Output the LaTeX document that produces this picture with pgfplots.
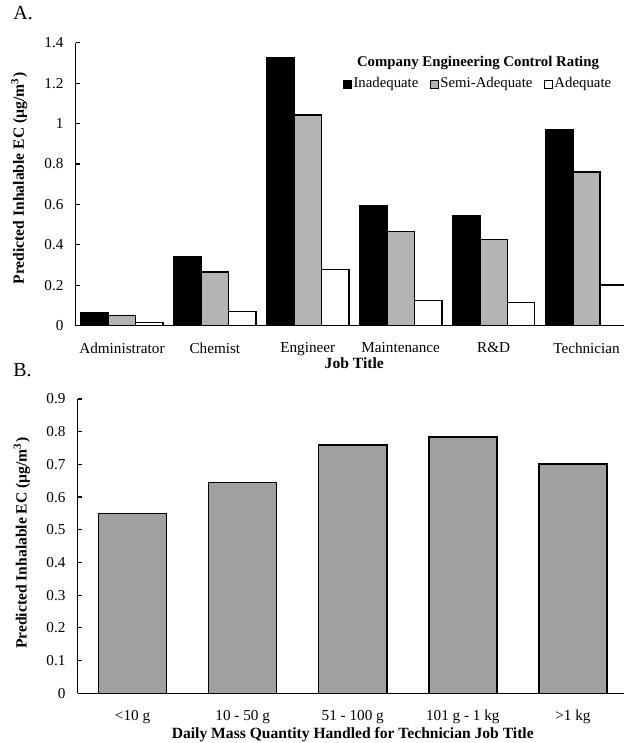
\documentclass[border=0pt]{standalone}
\usepackage{fontspec}
\setmainfont{Liberation Serif}
\usepackage{pgfplots}
\pgfplotsset{compat=1.18}
\definecolor{grayA}{RGB}{180,180,180}
\definecolor{grayB}{RGB}{160,160,160}
\pgfplotsset{
  common/.style={
    scale only axis,
    axis lines=left,
    axis line style={-, line width=0.75pt},
    /pgf/number format/assume math mode=true,
    tick label style={font=\fontsize{7.6}{9}\selectfont},
    label style={font=\bfseries\fontsize{7.8}{9}\selectfont},
    ytick align=inside,
    major tick length=2pt,
    ytick style={line width=0.6pt,black},
    xtick style={draw=none},
    xtick=data,
    ymin=0,
    xticklabel style={yshift=-3pt},
    yticklabel style={xshift=-2.5pt},
    clip=false,
  }
}
\begin{document}
\begin{tikzpicture}
% Panel A
\begin{axis}[common,
  at={(37.75pt,208.65pt)}, anchor=south west,
  width=278.75pt, height=141.5pt,
  xmin=-0.5, xmax=5.5, ymax=1.4,
  ytick={0,0.2,0.4,0.6,0.8,1,1.2,1.4},
  xticklabels={Administrator,Chemist,Engineer,Maintenance,R\&D,Technician},
  ybar, bar width=0.295,
  xlabel={Job Title},
  ylabel={Predicted Inhalable EC (µg/m\textsuperscript{3})},
  xlabel style={at={(axis description cs:0.5,-0.132)}, anchor=center},
  ylabel style={at={(axis description cs:-0.101,0.52)}, anchor=center},
  legend columns=3,
  legend style={at={(axis description cs:0.4793,0.854)}, anchor=west, draw=none, inner sep=0pt,
    font=\fontsize{7.4}{9}\selectfont,
    nodes={inner sep=0.8pt},
    /tikz/every even column/.append style={column sep=5pt}},
  legend image code/.code={\draw[#1, line width=0.4pt] (0pt,-2pt) rectangle (4pt,2pt);},
]
\addplot[bar shift=-0.295, fill=black, draw=black, line width=0.75pt] coordinates {(0,0.066) (1,0.340) (2,1.324) (3,0.594) (4,0.543) (5,0.968)};
\addplot[bar shift=0, fill=grayA, draw=black, line width=0.75pt] coordinates {(0,0.051) (1,0.265) (2,1.042) (3,0.467) (4,0.427) (5,0.760)};
\addplot[bar shift=0.295, fill=white, draw=black, line width=0.75pt] coordinates {(0,0.015) (1,0.069) (2,0.277) (3,0.124) (4,0.114) (5,0.201)};
\legend{Inadequate,Semi-Adequate,Adequate}
\node[font=\bfseries\fontsize{7.4}{9}\selectfont] at (axis description cs:0.722,0.929) {Company Engineering Control Rating};
\end{axis}
% Panel B
\begin{axis}[common,
  at={(38.75pt,24.85pt)}, anchor=south west,
  width=275.25pt, height=147.15pt,
  xmin=-0.5, xmax=4.5, ymax=0.9,
  ytick={0,0.1,0.2,0.3,0.4,0.5,0.6,0.7,0.8,0.9},
  xticklabels={<10 g,10 - 50 g,51 - 100 g,101 g - 1 kg,>1 kg},
  ybar, bar width=0.618,
  xlabel={Daily Mass Quantity Handled for Technician Job Title},
  ylabel={Predicted Inhalable EC (µg/m\textsuperscript{3})},
  xlabel style={at={(axis description cs:0.5,-0.139)}, anchor=center},
  ylabel style={at={(axis description cs:-0.101,0.51)}, anchor=center},
]
\addplot[fill=grayB, draw=black, line width=0.75pt] coordinates {(0,0.550) (1,0.645) (2,0.759) (3,0.784) (4,0.701)};
\end{axis}
\node[anchor=west, font=\fontsize{10}{11}\selectfont, inner sep=0pt] at (6.5pt,365pt) {A.};
\node[anchor=west, font=\fontsize{10}{11}\selectfont, inner sep=0pt] at (6.5pt,186.5pt) {B.};
\pgfresetboundingbox
\path[use as bounding box] (0,0) rectangle (311.5pt,371.5pt);
\end{tikzpicture}
\end{document}
